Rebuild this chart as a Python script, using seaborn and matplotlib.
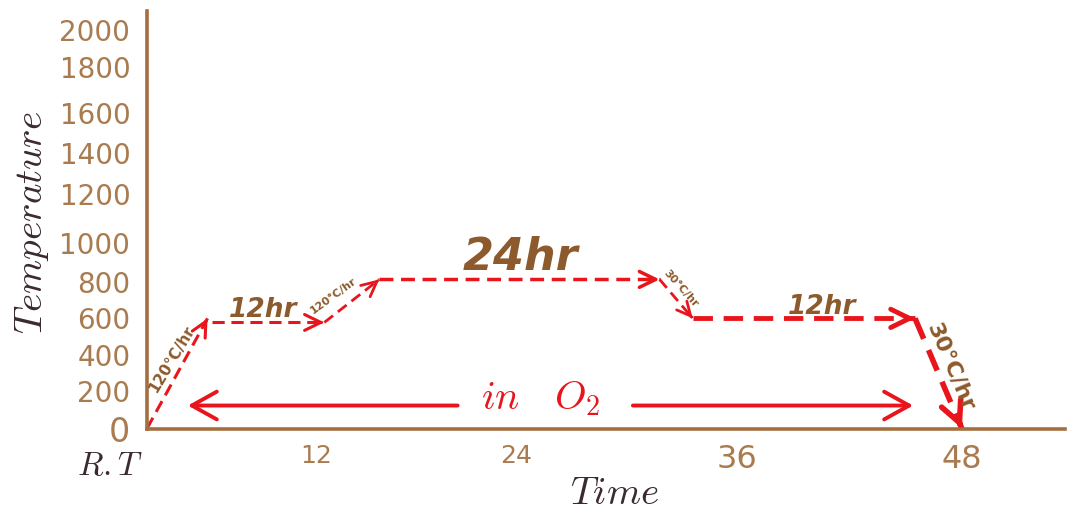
import numpy as np
import pandas as pd
import matplotlib
matplotlib.use("Agg")
import matplotlib.pyplot as plt
import seaborn as sns
from matplotlib import font_manager

# ---------------- data ----------------
temp_ticks = [0, 200, 400, 600, 800, 1000, 1200, 1400, 1600, 1800, 2000]
time_ticks = [12, 24, 36, 48]
time_tick_labels = ["12", "24", "36", "48"]

# heating profile (time in hr, temperature in °C)
path_time = [0, 4.3, 4.6, 12.5, 15.8, 31.8, 33.6, 45.5, 48]
path_temp = [0, 600, 578, 578, 815, 815, 600, 600, 0]
seg_start = [0, 2, 3, 4, 5, 6, 7]
seg_end = [1, 3, 4, 5, 6, 7, 8]

# oxygen atmosphere arrow
o2_time = [2.9, 45.4]
o2_temp = 124

# ---------------- style ----------------
RED = "#E8161C"
AXIS = "#A36F40"
TICK = "#A97B4F"
LBL = "#8C5A2C"
DARK = "#3B2A2E"

sns.set_style("white")
plt.rcParams["font.family"] = ["DejaVu Sans"]
plt.rcParams["mathtext.fontset"] = "cm"

names = {f.name for f in font_manager.fontManager.ttflist}
narrow = "Liberation Sans Narrow" if "Liberation Sans Narrow" in names else "DejaVu Sans"

W, H = 1067, 512
fig = plt.figure(figsize=(W / 100, H / 100), dpi=100)
ax = fig.add_axes([147 / W, (H - 428.5) / H, 918 / W, 418 / H])

# irregular axis spacing of the original drawing (piecewise-linear scales)
y_anchor_val = [-1000] + temp_ticks + [4000]
y_anchor_pos = [-185, 0, 37, 73, 110, 146, 185, 234, 275, 315, 361, 398, 788]
x_anchor_val = [-48, 0, 12, 24, 36, 48, 96]
x_anchor_pos = [-676, 0, 169, 369, 590, 815, 1715]

ax.set_yscale("function", functions=(lambda v: np.interp(v, y_anchor_val, y_anchor_pos),
                                     lambda p: np.interp(p, y_anchor_pos, y_anchor_val)))
ax.set_xscale("function", functions=(lambda v: np.interp(v, x_anchor_val, x_anchor_pos),
                                     lambda p: np.interp(p, x_anchor_pos, x_anchor_val)))

seg_lw = [2.2, 2.2, 2.0, 2.5, 2.0, 3.5, 4.0]
seg_ms = [24, 26, 24, 26, 22, 30, 34]
for i, (a, b) in enumerate(zip(seg_start, seg_end)):
    xs = [path_time[a], path_time[b]]
    ys = [path_temp[a], path_temp[b]]
    sns.lineplot(x=xs, y=ys, ax=ax, color=RED, lw=seg_lw[i], linestyle=(0, (4, 2.2)),
                 sort=False, estimator=None)
    fx = xs[1] - 0.04 * (xs[1] - xs[0])
    fy = ys[1] - 0.04 * (ys[1] - ys[0])
    ax.annotate("", xy=(xs[1], ys[1]), xytext=(fx, fy),
                arrowprops=dict(arrowstyle="->,head_length=0.45,head_width=0.22", color=RED,
                                lw=seg_lw[i], mutation_scale=seg_ms[i], shrinkA=0, shrinkB=0))

# double arrow, interrupted by the label
gap = [20.5, 30.35]
o2_kw = dict(arrowstyle="->,head_length=0.45,head_width=0.25", color=RED,
             lw=2.8, mutation_scale=40, shrinkA=0, shrinkB=0)
ax.annotate("", xy=(o2_time[0], o2_temp), xytext=(gap[0], o2_temp), arrowprops=o2_kw)
ax.annotate("", xy=(o2_time[1], o2_temp), xytext=(gap[1], o2_temp), arrowprops=o2_kw)
ax.text(25.3, o2_temp + 38, r"$in\ \ \ O_2$", ha="center", va="center", fontsize=29,
        color=RED)

ax.set_xlim(0, 53.5)
ax.set_ylim(0, 2100)
ax.set_yticks(temp_ticks)
ax.set_yticklabels([str(t) for t in temp_ticks])
ax.set_xticks(time_ticks)
ax.set_xticklabels(time_tick_labels)
ax.minorticks_off()

sns.despine(ax=ax)
for s in ("left", "bottom"):
    ax.spines[s].set_color(AXIS)
    ax.spines[s].set_linewidth(2.6)
ax.tick_params(axis="y", colors=AXIS, length=7, width=2, pad=5, direction="out")
ax.tick_params(axis="x", colors=AXIS, length=8, width=2.6, pad=3, direction="out")
for lab in ax.get_yticklabels():
    lab.set_color(TICK)
    lab.set_fontsize(20)
    if lab.get_text() == "0":
        lab.set_fontsize(24)
for lab in ax.get_xticklabels():
    lab.set_color(TICK)
    lab.set_family(narrow)
    lab.set_fontsize(18 if lab.get_text() in ("12", "24") else 23)

def fp(px, py):
    return px / W, 1 - py / H

ax.set_ylabel("")
ax.set_xlabel("")
fig.text(*fp(32, 222), r"$Temperature$", rotation=90, ha="center", va="center",
         fontsize=28, color=DARK)
fig.text(*fp(615, 493), r"$Time$", ha="center", va="center", fontsize=28, color=DARK)
fig.text(*fp(110, 466), r"$R.T$", ha="center", va="center", fontsize=24, color=DARK)

lab_kw = dict(color=LBL, fontweight="heavy", ha="center", va="center")
fig.text(*fp(172, 359), "120°C/hr", rotation=59, fontsize=11, **lab_kw)
fig.text(*fp(263, 310), "12hr", fontsize=19, style="italic", **lab_kw)
fig.text(*fp(333, 296), "120°C/hr", rotation=36, fontsize=8, **lab_kw)
fig.text(*fp(520, 258), "24hr", fontsize=32, style="italic", **lab_kw)
fig.text(*fp(681, 289), "30°C/hr", rotation=-48, fontsize=8, **lab_kw)
fig.text(*fp(822, 307), "12hr", fontsize=19, style="italic", **lab_kw)
fig.text(*fp(951, 367), "30°C/hr", rotation=-67, fontsize=16, **lab_kw)

fig.savefig("out.png", dpi=100, facecolor="white")
